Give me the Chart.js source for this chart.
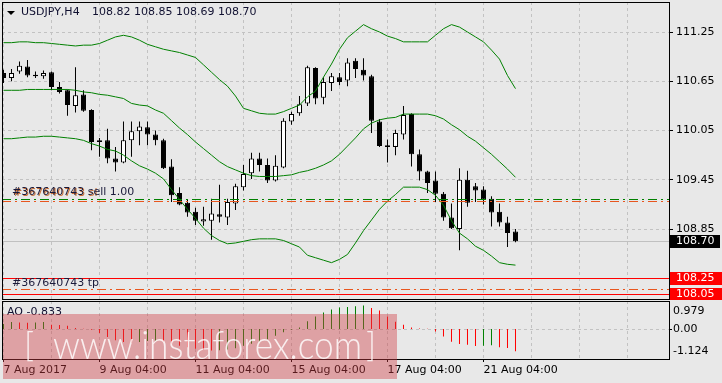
<!DOCTYPE html>
<html>
<head>
<meta charset="utf-8">
<script src="https://cdn.jsdelivr.net/npm/chart.js@4.4.0/dist/chart.umd.min.js"></script>
<style>
  html, body { margin: 0; padding: 0; background: #e8e8e8; }
  #wrap { position: relative; width: 722px; height: 383px; overflow: hidden; }
  canvas { position: absolute; left: 0; }
  #priceChart { top: 0; }
  #aoChart { top: 300px; }
</style>
</head>
<body>
<div id="wrap">
  <canvas id="priceChart" width="722" height="300"></canvas>
  <canvas id="aoChart" width="722" height="83"></canvas>
</div>
<script>
Chart.defaults.font.family = '"DejaVu Sans", sans-serif';
Chart.defaults.font.size = 11;
Chart.defaults.color = '#000';
Chart.defaults.animation = false;

// USDJPY H4 candles, one per 4 hours, oldest first
var opens  = [110.75,110.69,110.77,110.83,110.73,110.71,110.76,110.58,110.54,110.35,110.49,110.30,109.91,109.93,109.71,109.66,
              109.93,110.04,110.09,110.00,109.93,109.61,109.29,109.17,109.06,108.94,108.95,109.03,108.99,109.16,109.36,109.53,
              109.71,109.63,109.44,109.60,110.16,110.26,110.38,110.81,110.45,110.63,110.70,110.66,110.90,110.79,110.71,110.16,
              109.87,109.85,110.00,110.25,109.76,109.55,109.44,109.28,108.99,108.85,109.45,109.37,109.33,109.22,109.06,108.93,108.82];
var highs  = [110.79,110.80,110.89,110.91,110.77,110.78,110.77,110.64,110.55,110.82,110.54,110.31,109.96,110.07,109.85,110.16,
              110.16,110.16,110.16,110.05,109.95,109.70,109.36,109.21,109.11,109.12,109.22,109.39,109.22,109.40,109.63,109.78,
              109.78,109.71,109.75,110.20,110.28,110.47,110.84,110.82,110.70,110.75,110.75,110.93,110.93,110.93,110.73,110.19,
              109.94,110.06,110.35,110.26,109.82,109.56,109.55,109.30,109.16,109.59,109.56,109.41,109.37,109.25,109.16,109.00,108.85];
var lows   = [110.63,110.65,110.74,110.70,110.69,110.68,110.54,110.50,110.23,110.27,110.28,109.81,109.73,109.65,109.55,109.65,
              109.73,109.87,109.87,109.87,109.58,109.18,109.14,109.00,108.90,108.89,108.72,108.93,108.90,109.08,109.32,109.46,
              109.55,109.41,109.43,109.59,110.12,110.23,110.35,110.37,110.37,110.53,110.60,110.59,110.69,110.66,110.02,109.85,
              109.66,109.75,109.94,109.61,109.44,109.29,109.18,108.95,108.85,108.59,109.12,109.18,109.15,108.88,108.88,108.63,108.69];
var closes = [110.69,110.75,110.84,110.72,110.71,110.75,110.58,110.52,110.36,110.48,110.29,109.91,109.93,109.71,109.66,109.93,
              110.04,110.10,110.00,109.93,109.59,109.26,109.15,109.05,108.95,108.97,109.04,109.00,109.18,109.37,109.52,109.71,
              109.63,109.44,109.62,110.17,110.25,110.37,110.82,110.44,110.64,110.71,110.64,110.88,110.80,110.72,110.17,109.86,
              109.85,110.02,110.24,109.76,109.55,109.41,109.28,108.99,108.86,109.45,109.17,109.32,109.21,109.05,108.93,108.80,108.70];

// Bollinger bands
var bbUpper  = [111.12,111.12,111.13,111.13,111.12,111.12,111.11,111.10,111.09,111.08,111.09,111.09,111.11,111.15,111.19,111.21,
                111.19,111.15,111.10,111.07,111.04,111.02,111.00,110.97,110.94,110.85,110.76,110.67,110.59,110.47,110.32,110.29,
                110.26,110.25,110.25,110.28,110.32,110.36,110.46,110.53,110.70,110.86,111.04,111.18,111.26,111.34,111.29,111.25,
                111.20,111.17,111.13,111.13,111.13,111.13,111.21,111.29,111.34,111.31,111.25,111.19,111.13,111.03,110.92,110.72,110.56];
var bbMiddle = [110.54,110.54,110.54,110.55,110.55,110.55,110.55,110.55,110.55,110.54,110.52,110.51,110.49,110.48,110.46,110.44,
                110.38,110.36,110.35,110.30,110.26,110.17,110.08,110.00,109.91,109.83,109.75,109.67,109.61,109.57,109.53,109.50,
                109.49,109.49,109.49,109.50,109.51,109.54,109.56,109.59,109.63,109.68,109.76,109.86,109.96,110.07,110.14,110.18,
                110.20,110.21,110.25,110.25,110.25,110.25,110.23,110.19,110.12,110.06,109.98,109.92,109.84,109.76,109.67,109.58,109.48];
var bbLower  = [109.95,109.95,109.96,109.97,109.97,109.98,109.98,109.97,109.96,109.95,109.93,109.89,109.86,109.82,109.80,109.75,
                109.68,109.62,109.58,109.53,109.46,109.33,109.21,109.09,108.98,108.86,108.77,108.71,108.67,108.68,108.70,108.72,
                108.73,108.73,108.73,108.71,108.67,108.63,108.53,108.50,108.47,108.44,108.48,108.54,108.68,108.83,108.96,109.09,
                109.19,109.27,109.36,109.36,109.36,109.33,109.26,109.14,108.95,108.80,108.73,108.64,108.59,108.52,108.44,108.42,108.41];

// Awesome Oscillator
var aoValues = [0.19,0.26,0.25,0.24,0.25,0.26,0.16,0.15,0.12,0.04,0.01,-0.03,-0.15,-0.30,-0.42,-0.48,
                -0.50,-0.48,-0.45,-0.44,-0.47,-0.55,-0.62,-0.68,-0.74,-0.77,-0.80,-0.79,-0.76,-0.72,-0.62,-0.55,
                -0.47,-0.38,-0.25,-0.12,-0.03,0.06,0.29,0.47,0.62,0.73,0.81,0.83,0.85,0.88,0.79,0.69,
                0.47,0.27,0.16,0.06,0.02,0.01,-0.09,-0.28,-0.47,-0.56,-0.59,-0.63,-0.62,-0.61,-0.68,-0.71,-0.833];

var priceTicks = [108.25, 108.85, 109.45, 110.05, 110.65, 111.25];
var aoTicks = [-1.124, 0, 0.979];
var timeTicks = [0, 6, 12, 18, 24, 30, 36, 42, 48, 54, 60, 66, 72, 78];
var timeLabels = ['7 Aug 2017', '', '9 Aug 04:00', '', '11 Aug 04:00', '', '15 Aug 04:00', '',
                  '17 Aug 04:00', '', '21 Aug 04:00', '', '', ''];

// order lines: sell entry, second order line, take profit
var orderLevels = [109.21, 109.185, 108.115];
var orderTexts = ['#367640743 sell 1.00', '#367640743 sl', '#367640743 tp'];
var redLevels = [108.25, 108.05];
var bidPrice = 108.70;

var xMin = -0.18625, xMax = 83.18875;
var gridColor = '#c2c2c2';
var gridDash = [3, 3];

function points(arr) {
  return arr.map(function (v, i) { return { x: i, y: v }; });
}
var bodies = opens.map(function (o, i) { return { x: i, y: [o, closes[i]] }; });
var wicks = lows.map(function (l, i) { return { x: i, y: [l, highs[i]] }; });
var bodyFill = opens.map(function (o, i) { return closes[i] >= o ? '#ffffff' : '#000000'; });
var aoColors = aoValues.map(function (v, i) { return i > 0 && v <= aoValues[i - 1] ? '#ff0000' : '#008000'; });

// no extra room around the plot for tick labels, the frame is fixed
function noPad(s) {
  s.paddingTop = 0; s.paddingBottom = 0; s.paddingLeft = 0; s.paddingRight = 0;
}

function hline(ctx, a, py, color, dash) {
  var yy = Math.floor(py) + 0.5;
  ctx.save();
  ctx.strokeStyle = color;
  ctx.lineWidth = 1;
  ctx.setLineDash(dash);
  ctx.beginPath();
  ctx.moveTo(a.left, yy);
  ctx.lineTo(a.right, yy);
  ctx.stroke();
  ctx.restore();
}

function priceBox(ctx, py, text, bg, w) {
  var yy = Math.floor(py);
  ctx.fillStyle = bg;
  ctx.fillRect(670, yy - 6, w, 13);
  ctx.fillStyle = '#fff';
  ctx.textAlign = 'left';
  ctx.textBaseline = 'middle';
  ctx.fillText(text, 676, yy + 0.5);
}

var priceOverlay = {
  id: 'priceOverlay',
  beforeDatasetsDraw: function (chart) {
    hline(chart.ctx, chart.chartArea, chart.scales.y.getPixelForValue(bidPrice), '#c0c0c0', []);
  },
  afterDatasetsDraw: function (chart) {
    var ctx = chart.ctx, a = chart.chartArea, y = chart.scales.y;
    ctx.save();
    ctx.beginPath();
    ctx.rect(a.left, a.top, a.right - a.left, a.bottom - a.top);
    ctx.clip();
    hline(ctx, a, y.getPixelForValue(redLevels[0]), '#ff0000', []);
    hline(ctx, a, y.getPixelForValue(redLevels[1]), '#ff0000', []);
    hline(ctx, a, y.getPixelForValue(orderLevels[0]), '#008000', [9, 4, 2, 4]);
    hline(ctx, a, y.getPixelForValue(orderLevels[1]), '#e8561e', [9, 4, 2, 4]);
    hline(ctx, a, y.getPixelForValue(orderLevels[2]), '#e8561e', [9, 4, 2, 4]);
    ctx.font = '11px "DejaVu Sans"';
    ctx.textBaseline = 'middle';
    ctx.textAlign = 'left';
    ctx.fillStyle = 'rgba(200,90,20,0.85)';
    ctx.fillText(orderTexts[1], 13, Math.floor(y.getPixelForValue(orderLevels[1])) - 7.5);
    ctx.fillStyle = '#1a1a3a';
    ctx.fillText(orderTexts[0], 12, Math.floor(y.getPixelForValue(orderLevels[0])) - 6.5);
    ctx.fillText(orderTexts[2], 12, Math.floor(y.getPixelForValue(orderLevels[2])) - 6);
    ctx.restore();
  },
  afterDraw: function (chart) {
    var ctx = chart.ctx, a = chart.chartArea, y = chart.scales.y;
    var last = opens.length - 1;
    ctx.save();
    ctx.strokeStyle = '#000';
    ctx.lineWidth = 1;
    ctx.strokeRect(a.left + 0.5, a.top + 0.5, a.right - a.left, a.bottom - a.top);
    // header
    ctx.fillStyle = '#000';
    ctx.beginPath();
    ctx.moveTo(7, 11); ctx.lineTo(15, 11); ctx.lineTo(11, 15); ctx.closePath();
    ctx.fill();
    ctx.font = '11px "DejaVu Sans"';
    ctx.textBaseline = 'middle';
    ctx.textAlign = 'left';
    ctx.fillStyle = '#101030';
    ctx.fillText('USDJPY,H4', 21, 12.5);
    var ohlc = [opens[last], highs[last], lows[last], closes[last]].map(function (v) { return v.toFixed(2); }).join(' ');
    ctx.fillText(ohlc, 92, 12.5);
    // right side price boxes
    priceBox(ctx, y.getPixelForValue(bidPrice), bidPrice.toFixed(2), '#000', 50);
    priceBox(ctx, y.getPixelForValue(redLevels[0]), redLevels[0].toFixed(2), '#ff0000', 52);
    priceBox(ctx, y.getPixelForValue(redLevels[1]), redLevels[1].toFixed(2), '#ff0000', 52);
    ctx.restore();
  }
};

var aoOverlay = {
  id: 'aoOverlay',
  afterDraw: function (chart) {
    var ctx = chart.ctx, a = chart.chartArea;
    ctx.save();
    ctx.strokeStyle = '#000';
    ctx.lineWidth = 1;
    ctx.strokeRect(a.left + 0.5, a.top + 0.5, a.right - a.left, a.bottom - a.top);
    ctx.font = '11px "DejaVu Sans"';
    ctx.textBaseline = 'middle';
    ctx.textAlign = 'left';
    ctx.fillStyle = '#101030';
    ctx.fillText('AO ' + aoValues[aoValues.length - 1].toFixed(3), 7, 12.5);
    // watermark
    ctx.fillStyle = 'rgba(208,62,70,0.42)';
    ctx.fillRect(3, 14, 394, 65);
    ctx.fillStyle = 'rgba(255,255,255,0.82)';
    ctx.textBaseline = 'alphabetic';
    ctx.font = '300 34px Lato, "Liberation Sans", sans-serif';
    ctx.fillText('[', 24, 57);
    ctx.fillText(']', 366, 57);
    ctx.font = '300 40px Lato, "Liberation Sans", sans-serif';
    var site = 'www.instaforex.com';
    var w = ctx.measureText(site).width;
    ctx.translate(53, 59);
    ctx.scale(309 / w, 1);
    ctx.fillText(site, 0, 0);
    ctx.restore();
  }
};

new Chart(document.getElementById('priceChart'), {
  type: 'bar',
  data: {
    datasets: [
      { type: 'line', data: points(bbUpper), borderColor: '#008000', borderWidth: 1, pointRadius: 0, tension: 0, order: 0 },
      { type: 'line', data: points(bbMiddle), borderColor: '#008000', borderWidth: 1, pointRadius: 0, tension: 0, order: 0 },
      { type: 'line', data: points(bbLower), borderColor: '#008000', borderWidth: 1, pointRadius: 0, tension: 0, order: 0 },
      { data: bodies, backgroundColor: bodyFill, borderColor: '#000', borderWidth: 1, borderSkipped: false,
        barThickness: 5, grouped: false, inflateAmount: 0, minBarLength: 1, order: 1 },
      { data: wicks, backgroundColor: '#000', borderWidth: 0, barThickness: 1, grouped: false, inflateAmount: 0, order: 2 }
    ]
  },
  options: {
    responsive: false,
    devicePixelRatio: 1,
    layout: { padding: { left: 2, top: 2, right: 0, bottom: 1 } },
    plugins: { legend: { display: false }, tooltip: { enabled: false } },
    scales: {
      x: {
        type: 'linear', min: xMin, max: xMax, offset: false,
        afterBuildTicks: function (s) { s.ticks = timeTicks.map(function (v) { return { value: v }; }); },
        afterFit: function (s) { s.height = 0; noPad(s); },
        ticks: { display: false, autoSkip: false },
        grid: { color: gridColor, drawTicks: false, offset: false },
        border: { display: false, dash: gridDash }
      },
      y: {
        type: 'linear', position: 'right', min: 107.9972, max: 111.6156,
        afterBuildTicks: function (s) { s.ticks = priceTicks.map(function (v) { return { value: v }; }); },
        afterFit: function (s) { s.width = 53; noPad(s); },
        ticks: { padding: 3, callback: function (v) { return v.toFixed(2); } },
        grid: { color: gridColor, tickColor: '#000', tickLength: 4 },
        border: { display: false, dash: gridDash }
      }
    }
  },
  plugins: [priceOverlay]
});

new Chart(document.getElementById('aoChart'), {
  type: 'bar',
  data: {
    datasets: [
      { data: points(aoValues), backgroundColor: aoColors, borderWidth: 0, barThickness: 1,
        grouped: false, inflateAmount: 0, yAxisID: 'y' }
    ]
  },
  options: {
    responsive: false,
    devicePixelRatio: 1,
    layout: { padding: { left: 2, top: 1, right: 0, bottom: 0 } },
    plugins: { legend: { display: false }, tooltip: { enabled: false } },
    scales: {
      x: {
        type: 'linear', min: xMin, max: xMax, offset: false, position: 'bottom',
        afterBuildTicks: function (s) { s.ticks = timeTicks.map(function (v) { return { value: v }; }); },
        afterFit: function (s) { s.height = 24; noPad(s); },
        ticks: {
          autoSkip: false, maxRotation: 0, minRotation: 0, align: 'start', padding: 2,
          callback: function (v, i) { return timeLabels[i] || ''; }
        },
        grid: {
          color: gridColor, offset: false, tickLength: 3,
          tickColor: function (c) { return timeLabels[c.index] ? '#000' : 'rgba(0,0,0,0)'; }
        },
        border: { display: false, dash: gridDash }
      },
      y: { type: 'linear', display: false, min: -1.12, max: 1.05 },
      yl: {
        type: 'linear', position: 'right', min: -1.5615, max: 1.488,
        afterBuildTicks: function (s) { s.ticks = aoTicks.map(function (v) { return { value: v }; }); },
        afterFit: function (s) { s.width = 53; noPad(s); },
        ticks: { padding: 1, callback: function (v) { return v === 0 ? '0.00' : String(v); } },
        grid: {
          tickLength: 3,
          color: function (c) { return c.tick && c.tick.value === 0 ? gridColor : 'rgba(0,0,0,0)'; },
          tickColor: function (c) { return c.tick && c.tick.value === 0 ? '#000' : 'rgba(0,0,0,0)'; }
        },
        border: { display: false, dash: gridDash }
      }
    }
  },
  plugins: [aoOverlay]
});
</script>
</body>
</html>
